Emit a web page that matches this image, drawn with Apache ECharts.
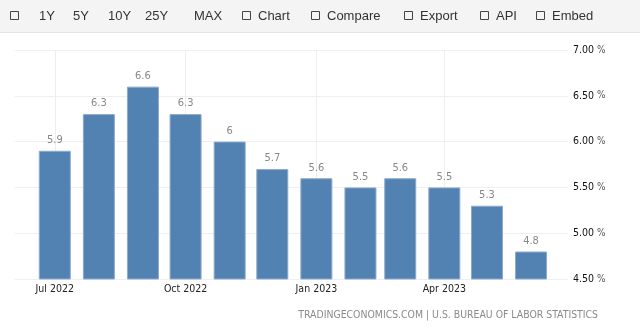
<!DOCTYPE html>
<html>
<head>
<meta charset="utf-8">
<script src="https://cdn.jsdelivr.net/npm/echarts@6/dist/echarts.min.js"></script>
<style>html,body{margin:0;padding:0;background:#fff}#c{width:640px;height:328px}</style>
</head>
<body>
<div id="c"></div>
<script>
const months = ['2022-07-01','2022-08-01','2022-09-01','2022-10-01','2022-11-01','2022-12-01','2023-01-01','2023-02-01','2023-03-01','2023-04-01','2023-05-01','2023-06-01'];
const values = [5.9, 6.3, 6.6, 6.3, 6.0, 5.7, 5.6, 5.5, 5.6, 5.5, 5.3, 4.8];
const xTickDates = ['2022-07-01','2022-10-01','2023-01-01','2023-04-01'];
const xTickLabels = ['Jul 2022','Oct 2022','Jan 2023','Apr 2023'];
const yMin = 4.5, yMax = 7.0, yStep = 0.5;
const menuItems = [
  {box: true, text: ''}, {text: '1Y'}, {text: '5Y'}, {text: '10Y'}, {text: '25Y'}, {text: 'MAX'},
  {box: true, text: 'Chart'}, {box: true, text: 'Compare'}, {box: true, text: 'Export'}, {box: true, text: 'API'}, {box: true, text: 'Embed'}
];
const menuX = [10, 39, 73, 108, 145, 194, 242, 311, 404, 480, 536];
const footer = 'TRADINGECONOMICS.COM | U.S. BUREAU OF LABOR STATISTICS';

// day index since 2022-01-01 (UTC, timezone independent)
const day = s => { const p = s.split('-').map(Number); return Math.round((Date.UTC(p[0], p[1]-1, p[2]) - Date.UTC(2022, 0, 1)) / 86400000); };
const tickDays = xTickDates.map(day);
const labelMap = {};
tickDays.forEach((t, i) => labelMap[t] = xTickLabels[i]);

const FONT = "'DejaVu Sans Condensed','DejaVu Sans',sans-serif";

const graphics = [
  {type: 'rect', shape: {x: 0, y: 0, width: 640, height: 32}, style: {fill: '#f4f4f4'}, z: -1},
  {type: 'line', shape: {x1: 0, y1: 32.5, x2: 640, y2: 32.5}, style: {stroke: '#e4e4e4', lineWidth: 1}}
];
menuItems.forEach((m, i) => {
  let x = menuX[i];
  if (m.box) {
    graphics.push({type: 'rect', shape: {x: x + 0.5, y: 11.5, width: 8, height: 8}, style: {fill: 'none', stroke: '#444', lineWidth: 1}});
    x += 16;
  }
  if (m.text) {
    graphics.push({type: 'text', x: x, y: 16, style: {text: m.text, fill: '#333', font: "13px 'Liberation Sans', Arial, sans-serif", textVerticalAlign: 'middle', textAlign: 'left'}});
  }
});
graphics.push({type: 'text', right: 42, top: 310, style: {text: footer, fill: '#8a8a8a', font: "10.4px " + FONT}});

const chart = echarts.init(document.getElementById('c'));
chart.setOption({
  animation: false,
  grid: {left: 15, right: 72, top: 50, bottom: 49},
  xAxis: {
    type: 'value',
    min: day('2022-06-03'), max: day('2023-06-27'),
    axisLine: {show: false},
    axisTick: {show: false, customValues: tickDays},
    axisLabel: {customValues: tickDays, interval: 0, hideOverlap: false, formatter: v => labelMap[v] || '', color: '#222', fontSize: 10.5, fontFamily: FONT, margin: 5},
    splitLine: {show: true, lineStyle: {color: '#eeeeee', width: 1}}
  },
  yAxis: {
    type: 'value', position: 'right', min: yMin, max: yMax, interval: yStep,
    axisLine: {show: false}, axisTick: {show: false},
    axisLabel: {
      margin: 5,
      formatter: v => '{n|' + v.toFixed(2) + '}{p| %}',
      rich: {n: {color: '#111', fontSize: 10.5, fontFamily: FONT}, p: {color: '#555', fontSize: 10, fontFamily: FONT}}
    },
    splitLine: {lineStyle: {color: '#efefef', width: 1}}
  },
  series: [{
    type: 'bar',
    data: months.map((m, i) => [day(m), values[i]]),
    barWidth: 32,
    itemStyle: {color: '#5182b2', borderColor: '#8eaacb', borderWidth: 1},
    label: {show: true, position: 'top', distance: 5, color: '#888', fontSize: 11, fontFamily: FONT, formatter: p => String(p.value[1])}
  }],
  graphic: graphics
});
</script>
</body>
</html>
